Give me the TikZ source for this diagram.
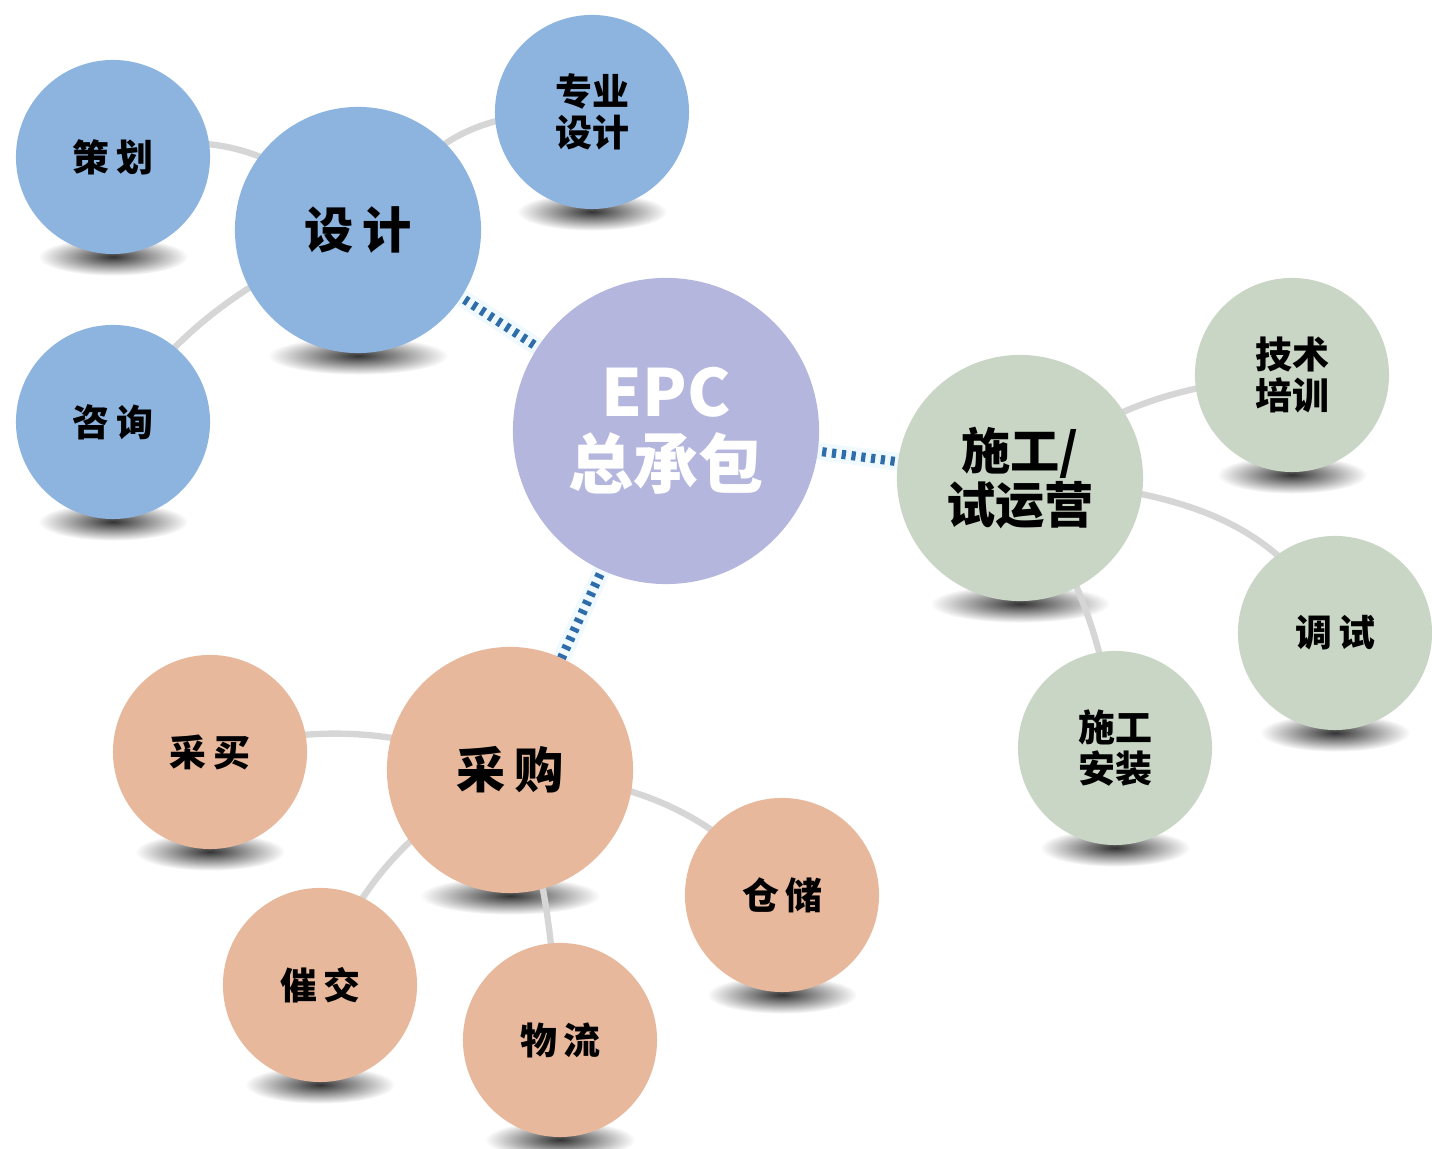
\documentclass[tikz,border=0pt]{standalone}
\usepackage{fontspec}
\newfontfamily\cjk{Noto Sans CJK SC}
\usetikzlibrary{backgrounds}

\definecolor{designblue}{HTML}{8DB4DF}
\definecolor{epcpurple}{HTML}{B4B6DE}
\definecolor{buildgreen}{HTML}{C9D6C6}
\definecolor{buyorange}{HTML}{E7B89C}
\definecolor{linkgray}{HTML}{D6D6D6}
\definecolor{dotblue}{HTML}{2F6DAA}

\begin{document}
\begin{tikzpicture}[
  x=0.01cm, y=0.01cm,
  ball/.style={circle, inner sep=0pt, align=center},
  bigball/.style={ball, minimum size=2.46cm, font=\cjk\bfseries\fontsize{14}{13.5}\selectfont},
  smallball/.style={ball, minimum size=1.94cm, font=\cjk\bfseries\fontsize{10.5}{11.5}\selectfont},
  hub/.style={ball, minimum size=3.06cm, fill=epcpurple, text=white, font=\cjk\bfseries\fontsize{18.5}{20.5}\selectfont},
  link/.style={linkgray, line width=1.8pt},
  glow/.style={cyan!6, line width=5pt},
  dots/.style={dotblue, line width=2.6pt, dash pattern=on 1.2pt off 1.6pt},
  puddle/.style={inner color=black!80, outer color=white}
]
\useasboundingbox (0,0) rectangle (1432,1149);

% --- centre ---
\node[hub] (epc) at (666,718) {EPC\\总承包};

% --- design (blue) ---
\node[bigball, fill=designblue]   (sj)   at (358,919)  {设\,计};
\node[smallball, fill=designblue] (ch)   at (113,992)  {策\,划};
\node[smallball, fill=designblue] (zysj) at (592,1037) {专业\\设计};
\node[smallball, fill=designblue] (zx)   at (113,727)  {咨\,询};

% --- construction (green) ---
\node[bigball, fill=buildgreen]   (sg)   at (1020,671) {施工/\\试运营};
\node[smallball, fill=buildgreen] (jspx) at (1292,774) {技术\\培训};
\node[smallball, fill=buildgreen] (ts)   at (1335,516) {调\,试};
\node[smallball, fill=buildgreen] (sgaz) at (1115,401) {施工\\安装};

% --- procurement (orange) ---
\node[bigball, fill=buyorange]    (cg)   at (510,379)  {采\,购};
\node[smallball, fill=buyorange]  (cm)   at (210,397)  {采\,买};
\node[smallball, fill=buyorange]  (cc)   at (782,254)  {仓\,储};
\node[smallball, fill=buyorange]  (cj)   at (320,164)  {催\,交};
\node[smallball, fill=buyorange]  (wl)   at (560,109)  {物\,流};

\begin{scope}[on background layer]
% soft shadows under the balls
\foreach \b/\w in {sj/0.9, sg/0.9, cg/0.9,
                   ch/0.75, zysj/0.75, zx/0.75, jspx/0.75, ts/0.75, sgaz/0.75,
                   cm/0.75, cc/0.75, cj/0.75, wl/0.75}
  \shade[puddle] ([yshift=-0.02cm]\b.south) ellipse [x radius=\w cm, y radius=0.19cm];

% gray links, parent to child
\draw[link] (sj.center) to[out=130, in=20]  (ch.center);
\draw[link] (sj.center) to[out=50,  in=180, looseness=1.2] (zysj.center);
\draw[link] (sj.center) to[out=205, in=55]  (zx.center);

\draw[link] (sg.center) to[out=40,  in=185] (jspx.center);
\draw[link] (sg.center) to[out=-5,  in=115] (ts.center);
\draw[link] (sg.center) to[out=-60, in=95]  (sgaz.center);

\draw[link] (cg.center) to[out=160, in=15]  (cm.center);
\draw[link] (cg.center) to[out=-5,  in=130] (cc.center);
\draw[link] (cg.center) to[out=210, in=70]  (cj.center);
\draw[link] (cg.center) to[out=-70, in=95]  (wl.center);

% dotted links from the centre
\draw[glow] (epc.center) -- (sj.center);
\draw[glow] (epc.center) -- (sg.center);
\draw[glow] (epc.center) -- (cg.center);
\draw[dots] (epc.center) -- (sj.center);
\draw[dots] (epc.center) -- (sg.center);
\draw[dots] (epc.center) -- (cg.center);
\end{scope}

\end{tikzpicture}
\end{document}
